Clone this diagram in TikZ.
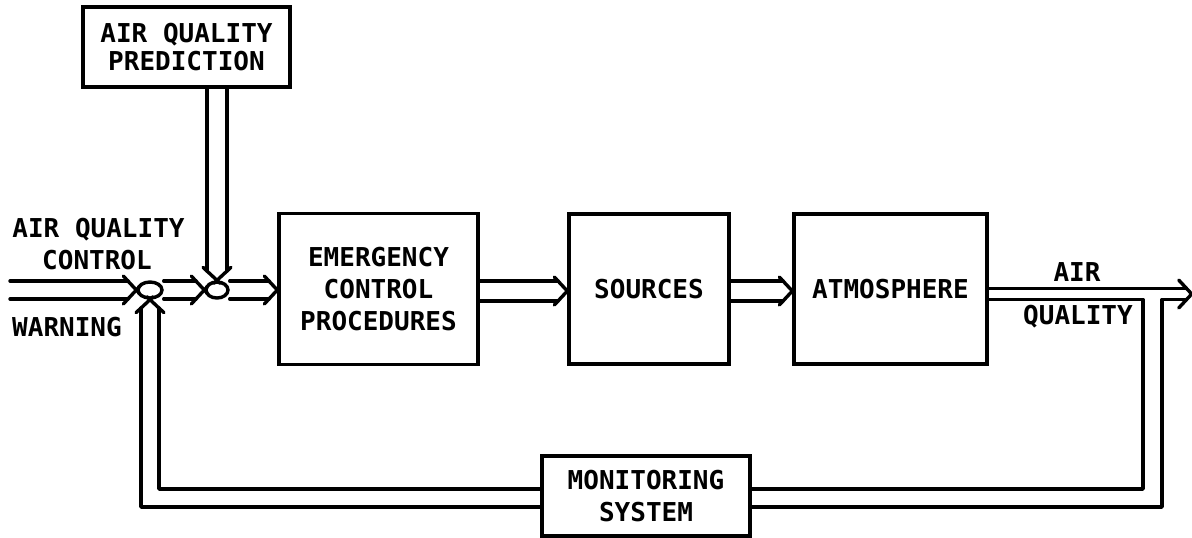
\documentclass[tikz,border=0pt]{standalone}
\usepackage{fontspec}
\setmonofont{DejaVu Sans Mono}
\usetikzlibrary{calc,shapes.geometric}
% right-pointing double arrow: #1 start, #2 tip, #3 half gap, #4 extension past tip
\newcommand\harr[4]{%
  \draw[wire] ($(#1)+(0,-#3)$) -- ($(#2)+({-13*#3/14},-#3)$);
  \draw[wire] ($(#1)+(0,#3)$) -- ($(#2)+({-13*#3/14},#3)$);
  \draw[wire] ($(#2)+(-13,-14)$) -- ($(#2)+({#4},{14*#4/13})$);
  \draw[wire] ($(#2)+(-13,14)$) -- ($(#2)+({#4},{-14*#4/13})$);
}
% downward double arrow
\newcommand\darr[4]{%
  \draw[wire] ($(#1)+(-#3,0)$) -- ($(#2)+(-#3,{-13*#3/14})$);
  \draw[wire] ($(#1)+(#3,0)$) -- ($(#2)+(#3,{-13*#3/14})$);
  \draw[wire] ($(#2)+(-14,-13)$) -- ($(#2)+({14*#4/13},{#4})$);
  \draw[wire] ($(#2)+(14,-13)$) -- ($(#2)+({-14*#4/13},{#4})$);
}
\begin{document}
\begin{tikzpicture}[x=0.5pt,y=-0.5pt,
  wire/.style={line width=1.7pt, line cap=round, line join=round},
  blk/.style={draw, line width=1.7pt, rectangle, inner sep=0pt, align=center,
    font=\ttfamily\bfseries\fontsize{13}{16}\selectfont},
  junc/.style={draw, line width=1.7pt, ellipse, inner sep=0pt},
  lbl/.style={font=\ttfamily\bfseries\fontsize{13}{16}\selectfont, inner sep=0pt, anchor=base}]
\useasboundingbox (0,0) rectangle (1192,537);

% blocks
\node[blk, minimum width=103.5pt, minimum height=40pt,
  font=\ttfamily\bfseries\fontsize{13}{14}\selectfont] (pred) at (186.5,47) {AIR QUALITY\\PREDICTION};
\node[blk, minimum width=99.5pt, minimum height=75.5pt] (emer) at (378.5,289) {EMERGENCY\\CONTROL\\PROCEDURES};
\node[blk, minimum width=80pt, minimum height=75pt] (src) at (649,289) {SOURCES};
\node[blk, minimum width=96.5pt, minimum height=75pt] (atm) at (890.5,289) {ATMOSPHERE};
\node[blk, minimum width=104pt, minimum height=40pt] (mon) at (646,496) {MONITORING\\SYSTEM};

% summing junctions
\node[junc, minimum width=12pt, minimum height=8pt] (j1) at (150,290) {};
\node[junc, minimum width=11pt, minimum height=8pt] (j2) at (217,290) {};

% labels
\node[lbl] (lq1) at (98.5,237.5) {AIR QUALITY};
\node[lbl] (lq2) at (97,269.5) {CONTROL};
\node[lbl] (lw) at (67,336.5) {WARNING};
\node[lbl] (la1) at (1077,281.5) {AIR};
\node[lbl] (la2) at (1078,324.5) {QUALITY};

% forward path
\coordinate (inL) at (10,290);
\harr{inL}{j1.west}{9}{3}
\harr{j1.east}{j2.west}{9}{3}
\coordinate (eIn) at (emer.west |- j2.center);
\harr{j2.east}{eIn}{9}{0}
\coordinate (sIn) at ($(src.west)+(0,2)$);
\coordinate (eOut) at ($(emer.east)+(0,2)$);
\harr{eOut}{sIn}{10}{0}
\coordinate (aIn) at ($(atm.west)+(0,2)$);
\coordinate (sOut) at ($(src.east)+(0,2)$);
\harr{sOut}{aIn}{10}{0}

% prediction input
\coordinate (pD) at (pred.south -| j2.north);
\darr{pD}{j2.north}{10}{3}

% output
\coordinate (aE1) at ($(atm.east)+(0,-0.5)$);
\coordinate (aE2) at ($(atm.east)+(0,10.5)$);
\coordinate (out) at ($(atm.east)+(203,5)$);
\draw[wire] (aE1) -- ($(out)+(-5.1,-5.5)$);
\draw[wire] ($(out)+(-13,-14)$) -- (out) -- ($(out)+(-13,14)$);

% feedback
\coordinate (mE1) at ($(mon.east)+(0,-7)$);
\coordinate (mE2) at ($(mon.east)+(0,11)$);
\coordinate (mW1) at ($(mon.west)+(0,-7)$);
\coordinate (mW2) at ($(mon.west)+(0,11)$);
\coordinate (rIn) at (1143,489);
\coordinate (rOut) at (1162,507);
\draw[wire] (aE2) -| (rIn) -- (mE1);
\draw[wire] ($(out)+(-5.1,5.5)$) -| (rOut) -- (mE2);
\draw[wire] (mW1) -| ($(j1.south)+(9,8.4)$);
\draw[wire] (mW2) -| ($(j1.south)+(-9,8.4)$);
\draw[wire] ($(j1.south)+(-14,13)$) -- ($(j1.south)+(3.2,-3)$);
\draw[wire] ($(j1.south)+(14,13)$) -- ($(j1.south)+(-3.2,-3)$);
\end{tikzpicture}
\end{document}
